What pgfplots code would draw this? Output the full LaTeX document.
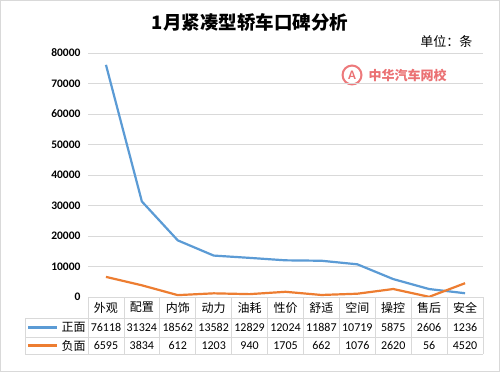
\documentclass[border=0pt]{standalone}
\usepackage{pgfplots}
\pgfplotsset{compat=1.18}
\usepackage{fontspec}
\setmainfont{Carlito}
\newfontfamily\cjk{Noto Sans CJK SC}
\definecolor{sblue}{HTML}{5B9BD5}
\definecolor{sorange}{HTML}{ED7D31}
\definecolor{gridc}{HTML}{D9D9D9}
\definecolor{logored}{HTML}{E8585A}
\begin{document}
\begin{tikzpicture}[x=1pt,y=1pt]
\useasboundingbox (0,0) rectangle (500,372);
\fill[white] (0,0) rectangle (500,372);
\draw[gridc, line width=0.8pt] (0.5,0.5) rectangle (499.5,371.5);
% title
\node[font=\cjk\bfseries\fontsize{18.5}{20}\selectfont] at (250,350) {1月紧凑型轿车口碑分析};
\node[font=\cjk\fontsize{13}{15}\selectfont, anchor=east] at (476,330) {单位：条};
% watermark logo
\fill[logored!80] (352,297) circle (10.5);
\fill[white] (352,297) circle (8.3);
\node[font=\bfseries\fontsize{13}{13}\selectfont, text=logored!85] at (352,296.5) {A};
\node[font=\cjk\bfseries\fontsize{13}{13}\selectfont, text=logored!85, anchor=west] at (365,297) {中华汽车网校};
\begin{axis}[
  at={(88pt,75pt)}, anchor=south west,
  scale only axis, width=395pt, height=244pt,
  xmin=-0.5, xmax=10.5, ymin=0, ymax=80000,
  axis line style={draw=none},
  xtick=\empty,
  ytick={0,10000,...,80000},
  ymajorgrids, grid style={gridc, line width=0.8pt},
  major tick length=0pt,
  yticklabel style={font=\bfseries\fontsize{11.5}{12}\selectfont, xshift=-4pt},
  /pgf/number format/assume math mode=true,
  scaled y ticks=false,
  y tick label style={/pgf/number format/.cd, fixed, 1000 sep={}},
  clip=false,
]
\addplot[sblue, line width=2.2pt, mark=none] coordinates {
(0,76118) (1,31324) (2,18562) (3,13582) (4,12829) (5,12024) (6,11887) (7,10719) (8,5875) (9,2606) (10,1236)};
\addplot[sorange, line width=2.2pt, mark=none] coordinates {
(0,6595) (1,3834) (2,612) (3,1203) (4,940) (5,1705) (6,662) (7,1076) (8,2620) (9,56) (10,4520)};
\end{axis}
% table grid
\begin{scope}[gridc, line width=0.8pt]
\draw (88,75) -- (483,75);
\draw (25,54) -- (483,54);
\draw (25,35) -- (483,35);
\draw (25,18) -- (483,18);
\draw (25,54) -- (25,18);
\foreach \i in {0,...,11} { \draw ({88+\i*395/11},75) -- ({88+\i*395/11},18); }
\end{scope}
% header
\foreach \n [count=\i from 0] in {外观,配置,内饰,动力,油耗,性价,舒适,空间,操控,售后,安全} {
  \node[font=\cjk\fontsize{12}{12}\selectfont] at ({88+(\i+0.5)*395/11},64.5) {\n};
}
\foreach \n [count=\i from 0] in {76118,31324,18562,13582,12829,12024,11887,10719,5875,2606,1236} {
  \node[font=\fontsize{12}{12}\selectfont] at ({88+(\i+0.5)*395/11},44.5) {\n};
}
\foreach \n [count=\i from 0] in {6595,3834,612,1203,940,1705,662,1076,2620,56,4520} {
  \node[font=\fontsize{12}{12}\selectfont] at ({88+(\i+0.5)*395/11},26.5) {\n};
}
% legend
\draw[sblue, line width=2.2pt] (28,44.5) -- (57,44.5);
\node[font=\cjk\fontsize{12}{12}\selectfont] at (73.5,44.5) {正面};
\draw[sorange, line width=2.2pt] (28,26.5) -- (57,26.5);
\node[font=\cjk\fontsize{12}{12}\selectfont] at (73.5,26.5) {负面};
\end{tikzpicture}
\end{document}
